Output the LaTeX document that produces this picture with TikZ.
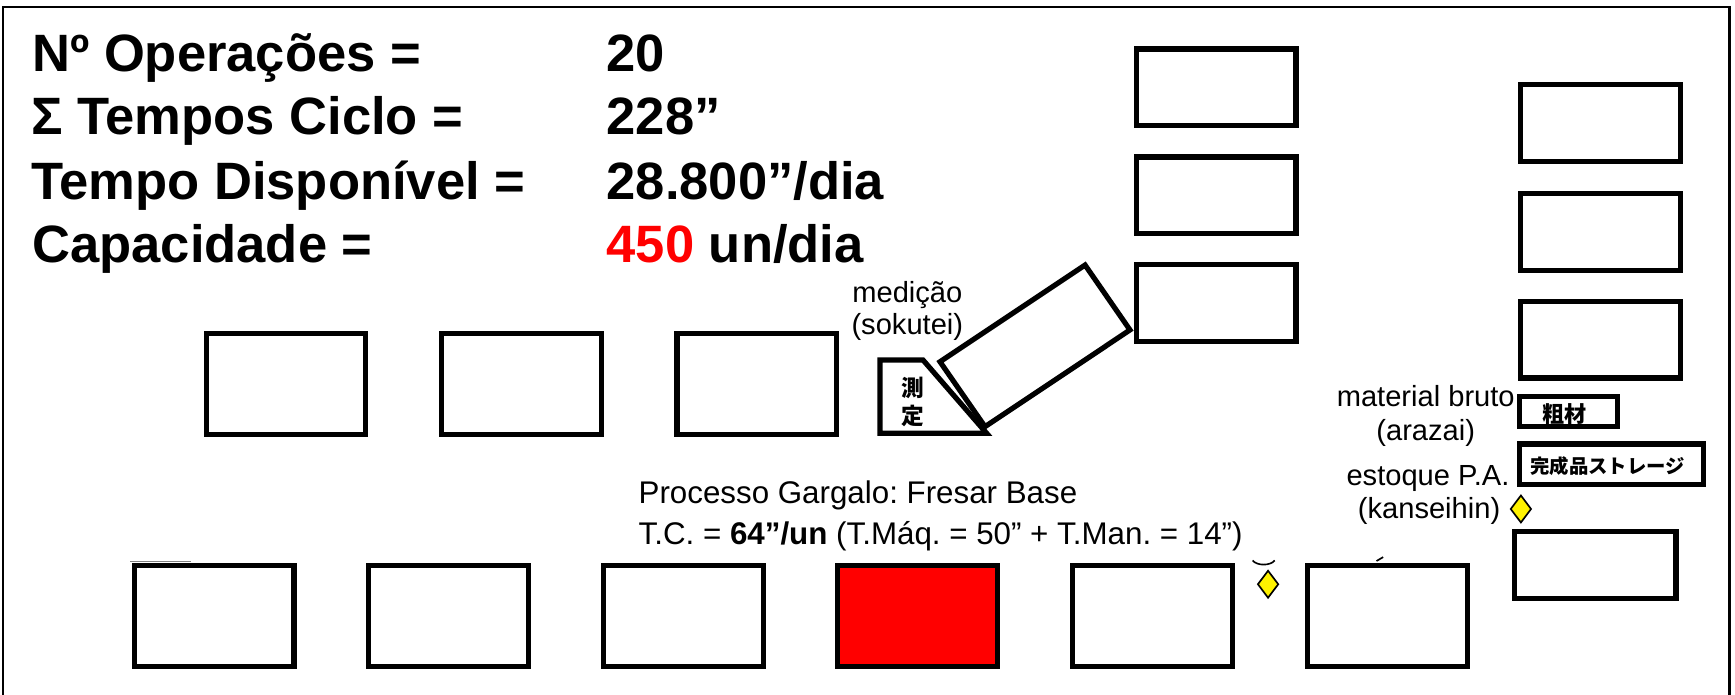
\documentclass[tikz,border=0pt]{standalone}
\usepackage{fontspec}
\setmainfont{Liberation Sans}
\newfontfamily\cjk{Noto Sans CJK JP}
\usetikzlibrary{shapes.geometric}
\frenchspacing
\begin{document}
\begin{tikzpicture}[x=1pt,y=-1pt,
  mach/.style={draw, line width=4.7pt, minimum width=144.3pt, minimum height=91.3pt, inner sep=0pt, outer sep=0pt},
  rack/.style={mach, minimum height=69.3pt},
  big/.style={inner sep=0pt, font=\fontsize{47.5}{50}\selectfont\bfseries},
  lbl/.style={inner sep=0pt, font=\fontsize{26.3}{30}\selectfont},
  proc/.style={inner sep=0pt, font=\fontsize{28.3}{32}\selectfont},
  jp/.style={inner sep=0pt, font=\cjk\fontsize{20.5}{22}\selectfont\bfseries},
  stock/.style={diamond, draw, line width=1.5pt, fill=yellow, minimum width=19pt, minimum height=25pt, inner sep=0pt},
  thinmark/.style={line width=1.5pt},
  shapeline/.style={draw, line width=4.7pt, line join=miter}]
\useasboundingbox (0,0) rectangle (1568,628);
\fill[white] (0,0) rectangle (1568,628);
% frame
\draw[line width=2pt] (3,640) -- (3,6) -- (1563,6) -- (1563,640);

% summary text
\node[big, anchor=base west] (t1) at (29,65) {Nº Operações =};
\node[big, anchor=base west] (t2) at (28,122) {Σ Tempos Ciclo =};
\node[big, anchor=base west] (t3) at (28,180) {Tempo Disponível =};
\node[big, anchor=base west] (t4) at (29,237) {Capacidade =};
\node[big, anchor=base west] (v1) at (548,65) {20};
\node[big, anchor=base west] (v2) at (548,122) {228”};
\node[big, anchor=base west] (v3) at (548,180) {28.800”/dia};
\node[big, anchor=base west] (v4) at (548,237) {\textcolor[rgb]{1,0,0}{450} un/dia};

% top row machines
\node[mach] (m1) at (258.5,347) {};
\node[mach] (m2) at (471.5,347) {};
\node[mach] (m3) at (684,347) {};

% bottom row machines
\node[mach] (m4) at (193.5,556.5) {};
\node[mach] (m5) at (405.5,556.5) {};
\node[mach] (m6) at (617.5,556.5) {};
\node[mach, fill={rgb,1:red,1;green,0;blue,0}] (m7) at (829,556.5) {};
\node[mach] (m8) at (1041.5,556.5) {};
\node[mach] (m9) at (1254,556.5) {};

% right columns
\node[rack] (c1) at (1099,79) {};
\node[rack] (c2) at (1099,176.5) {};
\node[rack] (c3) at (1099,274) {};
\node[rack] (d1) at (1446.5,111) {};
\node[rack] (d2) at (1446.5,209.5) {};
\node[rack] (d3) at (1446.5,307) {};
\node[mach, minimum width=88.3pt, minimum height=27.3pt] (raw) at (1417.5,372) {};
\node[mach, minimum width=166.3pt, minimum height=36.3pt] (fin) at (1456.5,419.5) {};
\node[mach, minimum width=146.3pt, minimum height=60.3pt] (d4) at (1441.5,510.5) {};
\node[jp, font=\cjk\fontsize{20}{22}\selectfont\bfseries] (rawt) at (1414,374) {粗材};
\node[jp, font=\cjk\fontsize{17.5}{20}\selectfont\bfseries] (fint) at (1453,421.5) {完成品ストレージ};

% measurement station
\coordinate (p1) at (795.3,325.4);
\coordinate (p2) at (834.2,325.4);
\coordinate (p3) at (891.7,391.6);
\coordinate (p4) at (795.3,391.6);
\draw[shapeline] (p1) -- (p2) -- (p3) -- (p4) -- cycle;
\coordinate (r1) at (849.5,326.9);
\coordinate (r2) at (980.6,239.5);
\coordinate (r3) at (1021.2,298.2);
\coordinate (r4) at (890.2,385.6);
\draw[shapeline] (r1) -- (r2) -- (r3) -- (r4) -- cycle;
\node[jp] (k1) at (825,350.5) {測};
\node[jp] (k2) at (825,376) {定};

% labels
\node[lbl, anchor=base] (med1) at (820,273) {medição};
\node[lbl, anchor=base] (med2) at (820,302) {(sokutei)};
\node[proc, anchor=base west] (pr1) at (577,455) {Processo Gargalo: Fresar Base};
\node[proc, anchor=base west] (pr2) at (577,492) {T.C. = \textbf{64”/un} (T.Máq. = 50” + T.Man. = 14”)};
\node[lbl, anchor=base] (mb1) at (1288.5,367.5) {material bruto};
\node[lbl, anchor=base] (mb2) at (1288.5,398) {(arazai)};
\node[lbl, anchor=base] (ep1) at (1290.5,439) {estoque P.A.};
\node[lbl, anchor=base] (ep2) at (1291.5,468.5) {(kanseihin)};

% stock markers
\node[stock] (s1) at (1374.5,460) {};
\node[stock] (s2) at (1146,528) {};

% small marks
\draw[thinmark, gray] (117.5,507.3) -- (172.6,507.3);
\draw[thinmark] (1132,506.5) .. controls (1136,511.5) and (1148,511.5) .. (1152,506.5);
\draw[thinmark] (1244,507) -- (1250,503.5);
\end{tikzpicture}
\end{document}
